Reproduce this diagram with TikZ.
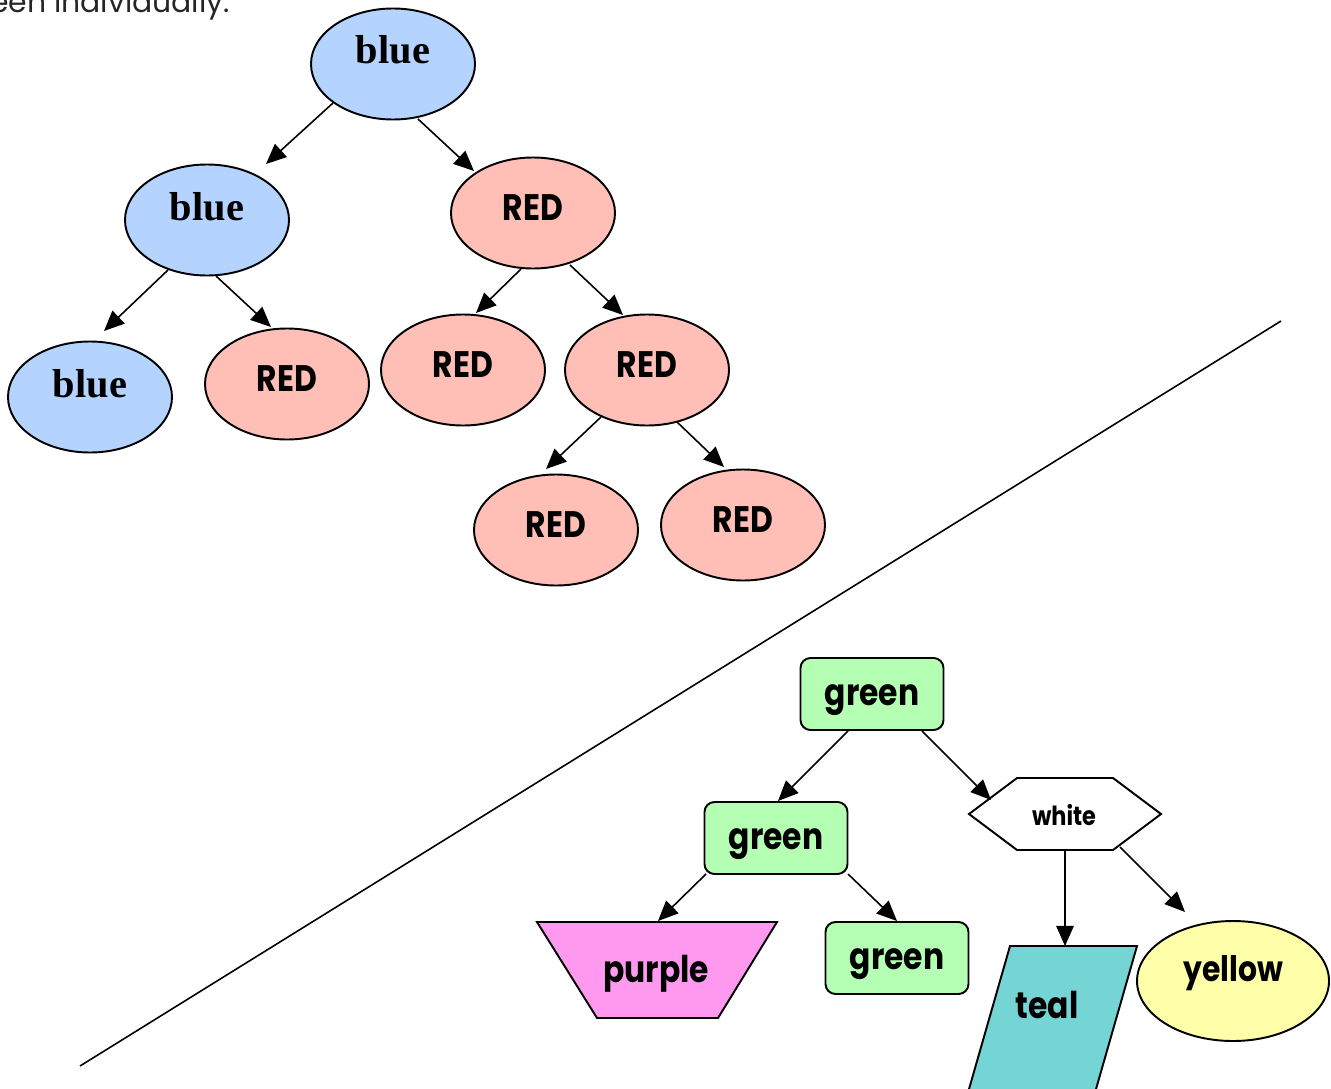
\documentclass[tikz,border=0pt]{standalone}
\usepackage{fontspec}
\usetikzlibrary{shapes.geometric,arrows.meta,calc}
\newfontfamily\comic[FakeStretch=0.85]{Poppins}
\newfontfamily\gothic{Poppins}
\newfontfamily\serifbold{Liberation Serif}
\definecolor{nblue}{RGB}{181,211,255}
\definecolor{nred}{RGB}{255,191,182}
\definecolor{ngreen}{RGB}{181,255,181}
\definecolor{npurple}{RGB}{255,153,240}
\definecolor{nteal}{RGB}{117,212,212}
\definecolor{nyellow}{RGB}{255,255,170}
\def\u{0.02cm}
\tikzset{
  ell/.style={ellipse, draw, line width=1.1pt, minimum width=164*\u, minimum height=111*\u, inner sep=0pt},
  bluenode/.style={ell, fill=nblue, font=\serifbold\bfseries\fontsize{23}{23}\selectfont, text height=0.3cm, text depth=0.3cm},
  rednode/.style={ell, fill=nred, font=\comic\bfseries\fontsize{21}{21}\selectfont, text height=0.42cm, text depth=0.14cm},
  greennode/.style={draw, line width=1.1pt, fill=ngreen, rounded corners=0.2cm, minimum width=143*\u, minimum height=72*\u, inner sep=0pt, font=\comic\bfseries\fontsize{21}{21}\selectfont, text height=0.5cm, text depth=0.06cm},
  lbl/.style={inner sep=0pt, font=\comic\bfseries\fontsize{21}{21}\selectfont},
  shapeline/.style={draw, line width=1.1pt, line join=miter},
  arr/.style={line width=0.9pt, -{Triangle[length=11.5pt,width=10pt]}},
}
\begin{document}
\begin{tikzpicture}[x=0.02cm,y=-0.02cm]
\useasboundingbox (0,0) rectangle (1331,1088);

% caption (cut off at the top)
\node[inner sep=0pt, anchor=base east, font=\gothic\fontsize{17}{17}\selectfont, text=black!85] (caption) at (230,13) {seen individually.};

% diagonal separator
\coordinate (d1) at (80,1066);
\coordinate (d2) at (1281,321);
\draw[line width=0.9pt] (d1) -- (d2);

% upper tree
\node[bluenode] (root) at (393,64) {blue};
\node[bluenode] (b2) at (207,220) {blue};
\node[bluenode] (b3) at (90,397) {blue};
\node[rednode] (rA) at (533,213) {RED};
\node[rednode] (rB) at (287,384) {RED};
\node[rednode] (rC) at (463,370) {RED};
\node[rednode] (rD) at (647,370) {RED};
\node[rednode] (rE) at (556,530) {RED};
\node[rednode] (rF) at (743,525) {RED};

\draw[arr] ($(root)+(-60,39)$) -- ($(b2)+(59,-56)$);
\draw[arr] ($(root)+(25,55)$) -- ($(rA)+(-59,-42)$);
\draw[arr] ($(b2)+(-39,50)$) -- ($(b3)+(14,-66)$);
\draw[arr] ($(b2)+(9,56)$) -- ($(rB)+(-16,-57)$);
\draw[arr] ($(rA)+(-12,56)$) -- ($(rC)+(13,-57)$);
\draw[arr] ($(rA)+(37,52)$) -- ($(rD)+(-24,-55)$);
\draw[arr] ($(rD)+(-46,47)$) -- ($(rE)+(-10,-61)$);
\draw[arr] ($(rD)+(30,52)$) -- ($(rF)+(-19,-58)$);

% lower tree
\node[greennode] (g1) at (872,694) {green};
\node[greennode] (g2) at (776,838) {green};
\node[greennode] (g3) at (897,958) {green};

\draw[shapeline, fill=white] (969,814) -- (1017,778) -- (1113,778) -- (1161,814) -- (1113,850) -- (1017,850) -- cycle;
\node[lbl, anchor=base, font=\comic\bfseries\fontsize{15}{15}\selectfont] (white) at (1064,825) {white};

\draw[shapeline, fill=npurple] (537,922) -- (777,922) -- (718,1018) -- (597,1018) -- cycle;
\node[lbl, anchor=base] (purple) at (656,982) {purple};

\draw[shapeline, fill=nteal] (1010,946) -- (1137,946) -- (1090,1110) -- (963,1110) -- cycle;
\node[lbl, anchor=base] (teal) at (1047,1018) {teal};

\node[ellipse, draw, line width=1.1pt, fill=nyellow, minimum width=192*\u, minimum height=120*\u, inner sep=0pt, font=\comic\bfseries\fontsize{20}{20}\selectfont, text height=0.3cm, text depth=0.3cm] (yellow) at (1233,981) {yellow};

\draw[arr] ($(g1)+(-24,37)$) -- ($(g2)+(2,-37)$);
\draw[arr] ($(g1)+(50,37)$) -- ($(white.base)+(-73,-25)$);
\draw[arr] ($(g2)+(-70,36)$) -- ($(purple.base)+(2,-61)$);
\draw[arr] ($(g2)+(72,36)$) -- ($(g3)+(0,-37)$);
\draw[arr] ($(white.base)+(1,25)$) -- ($(teal.base)+(18,-72)$);
\draw[arr] ($(white.base)+(56,22)$) -- ($(yellow)+(-48,-69)$);
\end{tikzpicture}
\end{document}
